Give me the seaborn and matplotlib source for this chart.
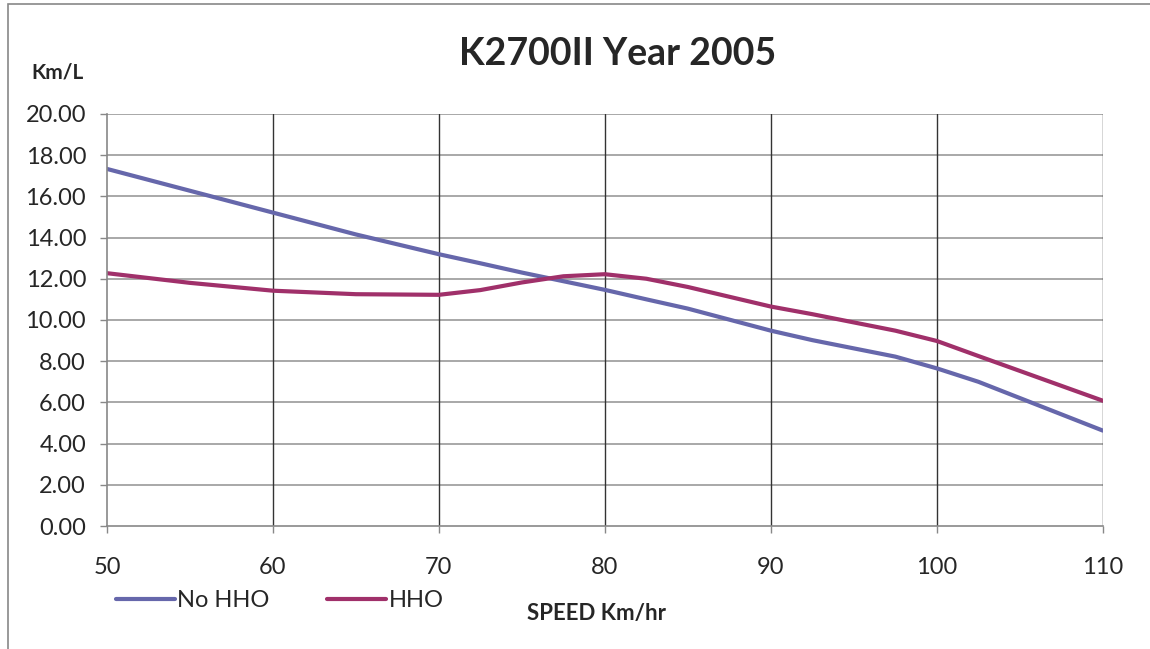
import matplotlib
matplotlib.use('Agg')
import matplotlib.pyplot as plt
import pandas as pd
import seaborn as sns
from matplotlib.patches import Rectangle

# speed (km/hr) and fuel economy (km/L)
speed = [50, 55, 60, 65, 70, 72.5, 75, 77.5, 80, 82.5, 85, 90, 92.5, 97.5, 100, 102.5, 110]
no_hho = [17.33, 16.27, 15.21, 14.15, 13.19, 12.75, 12.30, 11.88, 11.46, 11.00, 10.55,
          9.48, 9.02, 8.22, 7.65, 7.00, 4.63]
hho = [12.27, 11.80, 11.42, 11.25, 11.22, 11.45, 11.82, 12.12, 12.22, 12.00, 11.60,
       10.65, 10.28, 9.48, 8.98, 8.25, 6.08]
series = ['No HHO', 'HHO']
colours = {'No HHO': '#6667AB', 'HHO': '#A0306A'}

df = pd.concat([
    pd.DataFrame({'speed': speed, 'kml': no_hho, 'series': 'No HHO'}),
    pd.DataFrame({'speed': speed, 'kml': hho, 'series': 'HHO'}),
])

sns.set_style('white')
plt.rcParams['font.family'] = ['Lato', 'DejaVu Sans']

fig = plt.figure(figsize=(11.5, 6.49), dpi=100)
ax = fig.add_axes([0.093, 0.1895, 0.866, 0.635])

sns.lineplot(data=df, x='speed', y='kml', hue='series', hue_order=series,
             palette=colours, linewidth=3, ax=ax, legend=False, sort=False,
             estimator=None)

ax.set_xlim(50, 110)
ax.set_ylim(0, 20)
ax.set_xticks(range(50, 111, 10))
ax.set_yticks(range(0, 21, 2))
ax.set_yticklabels([f'{v:.2f}' for v in range(0, 21, 2)])
ax.tick_params(axis='both', labelsize=17, length=5, width=1, color='#888888',
               direction='out', bottom=True, left=True)
ax.tick_params(axis='x', pad=17)
ax.tick_params(axis='y', pad=10)

for y in range(2, 21, 2):
    ax.axhline(y, color='#999999', lw=1.2, zorder=0)
for x in range(60, 111, 10):
    ax.axvline(x, color='#333333', lw=1.0, zorder=0)
for side in ['top', 'right']:
    ax.spines[side].set_visible(False)
for side in ['left', 'bottom']:
    ax.spines[side].set_color('#888888')
    ax.spines[side].set_linewidth(1.2)

ax.set_xlabel('')
ax.set_ylabel('')

fig.text(0.537, 0.917, 'K2700II Year 2005', ha='center', va='center',
         fontsize=27, fontweight='bold')
fig.text(0.05, 0.888, 'Km/L', ha='center', va='center', fontsize=15, fontweight='bold')
fig.text(0.519, 0.055, 'SPEED Km/hr', ha='center', va='center', fontsize=16,
         fontweight='bold')

# legend drawn under the axis, left side
handles = [plt.Line2D([], [], color=colours[s], lw=3) for s in series]
fig.legend(handles, series, loc='center left', bbox_to_anchor=(0.082, 0.075),
           ncol=2, frameon=False, fontsize=17, handlelength=2.5, handletextpad=0.1,
           columnspacing=2.45)

fig.patches.append(Rectangle((0.007, -0.01), 1.2, 1.004, transform=fig.transFigure,
                             fill=False, edgecolor='#888888', lw=1.2))

fig.savefig('out.png', dpi=100)
